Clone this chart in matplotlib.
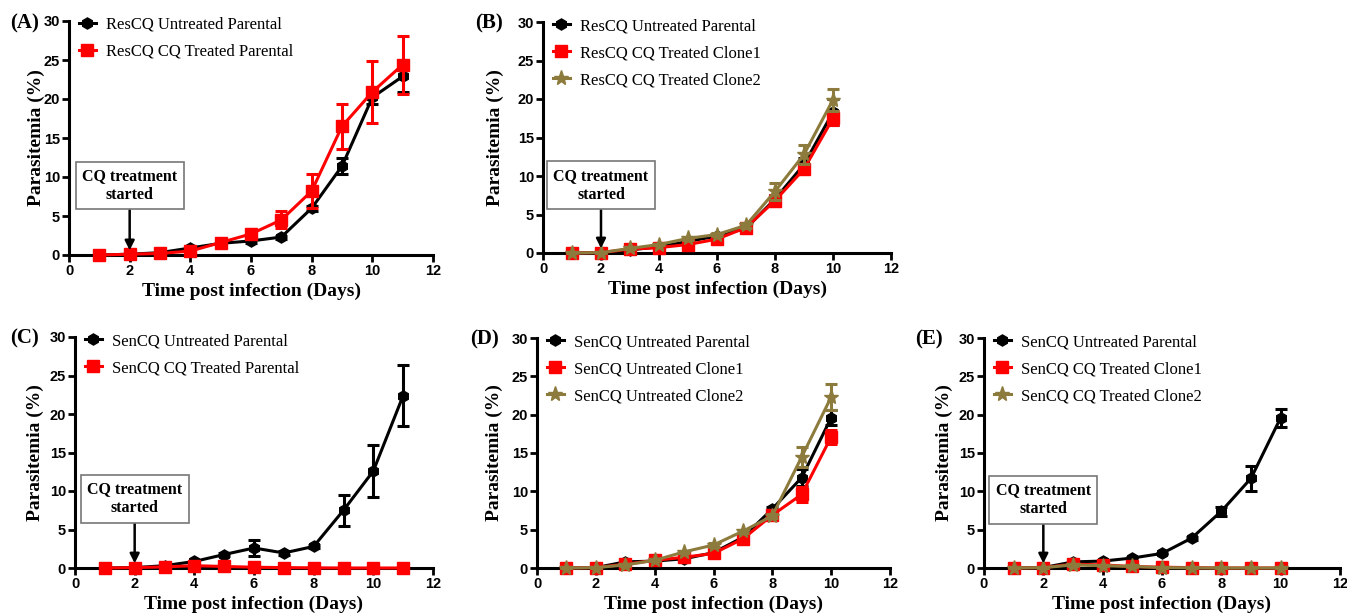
import matplotlib
matplotlib.use("Agg")
import matplotlib.pyplot as plt
import numpy as np

# ---------------- data ----------------
days11 = [1, 2, 3, 4, 5, 6, 7, 8, 9, 10, 11]
days10 = [1, 2, 3, 4, 5, 6, 7, 8, 9, 10]

# Panel A
a_labels = ["ResCQ Untreated Parental", "ResCQ CQ Treated Parental"]
a_untreated = [0, 0.1, 0.3, 0.9, 1.5, 1.8, 2.3, 6.0, 11.4, 20.2, 22.9]
a_untreated_err = [0, 0, 0.1, 0.1, 0.1, 0.2, 0.2, 0.3, 1.0, 0.8, 2.0]
a_treated = [0, 0.1, 0.2, 0.5, 1.6, 2.7, 4.5, 8.2, 16.5, 20.9, 24.4]
a_treated_err = [0, 0, 0.1, 0.2, 0.2, 0.6, 1.1, 2.2, 2.9, 4.0, 3.7]

# Panel B
b_labels = ["ResCQ Untreated Parental", "ResCQ CQ Treated Clone1", "ResCQ CQ Treated Clone2"]
b_parental = [0, 0.05, 0.4, 0.8, 1.5, 2.2, 3.2, 7.0, 11.5, 18.3]
b_parental_err = [0, 0, 0.1, 0.1, 0.1, 0.2, 0.2, 0.5, 0.8, 1.7]
b_clone1 = [0, 0.05, 0.5, 0.7, 1.1, 1.8, 3.3, 6.8, 10.9, 17.5]
b_clone1_err = [0, 0, 0.1, 0.1, 0.2, 0.2, 0.3, 0.7, 0.5, 0.9]
b_clone2 = [0, 0.05, 0.6, 1.1, 1.9, 2.4, 3.6, 8.0, 12.8, 19.9]
b_clone2_err = [0, 0, 0.1, 0.1, 0.2, 0.2, 0.3, 1.1, 1.2, 1.4]

# Panel C
c_labels = ["SenCQ Untreated Parental", "SenCQ CQ Treated Parental"]
c_untreated = [0, 0.05, 0.3, 0.85, 1.75, 2.6, 1.95, 2.8, 7.5, 12.6, 22.4]
c_untreated_err = [0, 0, 0.1, 0.1, 0.2, 1.0, 0.2, 0.2, 2.0, 3.4, 3.9]
c_treated = [0, 0.05, 0.15, 0.3, 0.2, 0.1, 0.05, 0.02, 0, 0, 0]
c_treated_err = [0, 0, 0.05, 0.1, 0.1, 0.05, 0, 0, 0, 0, 0]

# Panel D
d_labels = ["SenCQ Untreated Parental", "SenCQ Untreated Clone1", "SenCQ Untreated Clone2"]
d_parental = [0, 0.05, 0.8, 0.9, 1.2, 2.0, 4.0, 7.7, 11.8, 19.6]
d_parental_err = [0, 0, 0.1, 0.1, 0.1, 0.2, 0.2, 0.3, 1.1, 1.0]
d_clone1 = [0, 0.05, 0.5, 1.0, 1.4, 1.9, 3.8, 6.9, 9.6, 17.1]
d_clone1_err = [0, 0, 0.1, 0.1, 0.1, 0.2, 0.3, 0.3, 1.0, 0.9]
d_clone2 = [0, 0.05, 0.4, 1.0, 2.1, 3.0, 4.8, 6.8, 14.5, 22.3]
d_clone2_err = [0, 0, 0.1, 0.1, 0.1, 0.2, 0.2, 0.3, 1.3, 1.7]

# Panel E
e_labels = ["SenCQ Untreated Parental", "SenCQ CQ Treated Clone1", "SenCQ CQ Treated Clone2"]
e_parental = [0, 0.05, 0.8, 0.9, 1.3, 1.9, 3.9, 7.4, 11.7, 19.6]
e_parental_err = [0, 0, 0.1, 0.1, 0.1, 0.1, 0.2, 0.6, 1.6, 1.2]
e_clone1 = [0, 0.05, 0.5, 0.4, 0.2, 0.1, 0.05, 0, 0, 0]
e_clone1_err = [0, 0, 0.1, 0.1, 0.05, 0, 0, 0, 0, 0]
e_clone2 = [0, 0.05, 0.4, 0.3, 0.2, 0.05, 0.02, 0, 0, 0]
e_clone2_err = [0, 0, 0.1, 0.1, 0.05, 0, 0, 0, 0, 0]

x_ticks = [0, 2, 4, 6, 8, 10, 12]
y_ticks = [0, 5, 10, 15, 20, 25, 30]
x_label = "Time post infection (Days)"
y_label = "Parasitemia (%)"
annot_text = "CQ treatment\nstarted"

# ---------------- style ----------------
BLACK = "#000000"
RED = "#ff0000"
OLIVE = "#8c7b3c"
SERIF = ["Liberation Serif", "DejaVu Serif"]
SANS = ["Liberation Sans", "DejaVu Sans"]

styles = {
    "black": dict(color=BLACK, marker="h", ms=8),
    "red": dict(color=RED, marker="s", ms=8),
    "olive": dict(color=OLIVE, marker="*", ms=11),
}

fig = plt.figure(figsize=(13.47, 6.16), dpi=100)

W, H = 1347, 616


def make_ax(left_px, right_px, bottom_px, top_px):
    return fig.add_axes([left_px / W, 1 - bottom_px / H,
                         (right_px - left_px) / W, (bottom_px - top_px) / H])


def style_ax(ax, ylabelpad):
    ax.set_xlim(0, 12)
    ax.set_ylim(0, 30)
    ax.set_xticks(x_ticks)
    ax.set_yticks(y_ticks)
    for s in ["top", "right"]:
        ax.spines[s].set_visible(False)
    for s in ["left", "bottom"]:
        ax.spines[s].set_linewidth(2.2)
    ax.tick_params(axis="both", direction="out", width=2, length=5, pad=1.5)
    for lab in ax.get_xticklabels() + ax.get_yticklabels():
        lab.set_fontfamily(SANS)
        lab.set_fontweight("bold")
        lab.set_fontsize(10.5)
    ax.set_xlabel(x_label, fontfamily=SERIF, fontweight="bold", fontsize=14, labelpad=3)
    ax.set_ylabel(y_label, fontfamily=SERIF, fontweight="bold", fontsize=14,
                  labelpad=ylabelpad)


def plot_series(ax, x, y, err, key, label, z):
    st = styles[key]
    ax.errorbar(x, y, yerr=err, color=st["color"], fmt="none",
                elinewidth=2.2, capsize=4, capthick=2.2, zorder=z, clip_on=False)
    ax.plot(x, y, color=st["color"], marker=st["marker"], ms=st["ms"],
            lw=2.2, label=label, zorder=z, clip_on=False)


def legend(ax):
    leg = ax.legend(loc="upper left", bbox_to_anchor=(0.0, 1.06), frameon=False,
                    prop={"family": SERIF, "size": 12}, handlelength=1.0,
                    handletextpad=0.6, labelspacing=0.66, borderaxespad=0.2)
    return leg


def annotate(ax, ytext):
    ax.annotate(annot_text, xy=(2, 0.6), xytext=(2, ytext), ha="center", va="center",
                fontfamily=SERIF, fontweight="bold", fontsize=11.5, linespacing=1.25,
                bbox=dict(boxstyle="square,pad=0.4", fc="white", ec="#777777", lw=1.2),
                arrowprops=dict(arrowstyle="-|>", color="black", lw=1.8,
                                mutation_scale=14, shrinkA=0, shrinkB=0),
                zorder=6)


# Panel A
axA = make_ax(69, 433, 255, 21)
plot_series(axA, days11, a_untreated, a_untreated_err, "black", a_labels[0], 3)
plot_series(axA, days11, a_treated, a_treated_err, "red", a_labels[1], 4)
style_ax(axA, -1)
legend(axA)
annotate(axA, 8.9)

# Panel B
axB = make_ax(543, 891, 253, 22)
plot_series(axB, days10, b_parental, b_parental_err, "black", b_labels[0], 3)
plot_series(axB, days10, b_clone1, b_clone1_err, "red", b_labels[1], 4)
plot_series(axB, days10, b_clone2, b_clone2_err, "olive", b_labels[2], 5)
style_ax(axB, 10)
legend(axB)
annotate(axB, 8.8)

# Panel C
axC = make_ax(75, 433, 568, 337)
plot_series(axC, days11, c_untreated, c_untreated_err, "black", c_labels[0], 3)
plot_series(axC, days11, c_treated, c_treated_err, "red", c_labels[1], 4)
style_ax(axC, 4)
legend(axC)
annotate(axC, 9.0)

# Panel D
axD = make_ax(537, 890, 568, 338)
plot_series(axD, days10, d_parental, d_parental_err, "black", d_labels[0], 3)
plot_series(axD, days10, d_clone1, d_clone1_err, "red", d_labels[1], 4)
plot_series(axD, days10, d_clone2, d_clone2_err, "olive", d_labels[2], 5)
style_ax(axD, 6)
legend(axD)

# Panel E
axE = make_ax(984, 1340, 568, 338)
plot_series(axE, days10, e_parental, e_parental_err, "black", e_labels[0], 3)
plot_series(axE, days10, e_clone1, e_clone1_err, "red", e_labels[1], 4)
plot_series(axE, days10, e_clone2, e_clone2_err, "olive", e_labels[2], 5)
style_ax(axE, 4)
legend(axE)
annotate(axE, 8.9)

# Panel letters
for txt, xp, yp in [("(A)", 10, 23), ("(B)", 475, 23), ("(C)", 10, 338),
                    ("(D)", 470, 339), ("(E)", 915, 339)]:
    fig.text(xp / W, 1 - yp / H, txt, fontfamily=SERIF, fontweight="bold",
             fontsize=15, ha="left", va="center")

fig.savefig("out.png", dpi=100)
